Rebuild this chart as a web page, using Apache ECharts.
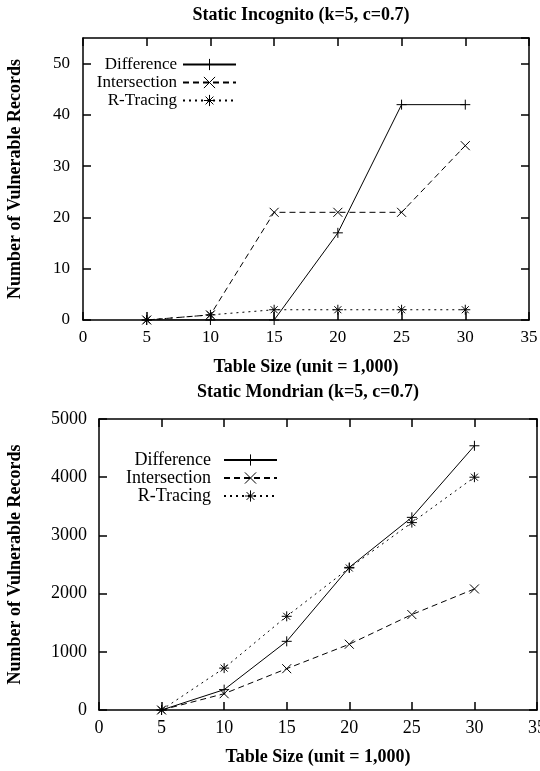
<!DOCTYPE html>
<html>
<head>
<meta charset="utf-8">
<script src="https://cdn.jsdelivr.net/npm/echarts@6/dist/echarts.min.js"></script>
<style>
html, body { margin: 0; padding: 0; background: #fff; }
#main { width: 540px; height: 771px; }
</style>
</head>
<body>
<div id="main"></div>
<script>
// x values (table size, unit = 1,000)
var tableSize = [5, 10, 15, 20, 25, 30];
var seriesNames = ['Difference', 'Intersection', 'R-Tracing'];

// Static Incognito (k=5, c=0.7)
var incDifference = [0, 0, 0, 17, 42, 42];
var incIntersection = [0, 1, 21, 21, 21, 34];
var incRTracing = [0, 1, 2, 2, 2, 2];

// Static Mondrian (k=5, c=0.7)
var monDifference = [0, 350, 1180, 2450, 3310, 4540];
var monIntersection = [0, 280, 710, 1130, 1640, 2080];
var monRTracing = [0, 720, 1610, 2440, 3220, 4000];

var FONT = 'Liberation Serif';

// gnuplot-like point types
var symbols = {
  'Difference': 'path://M0,5L10,5M5,0L5,10',
  'Intersection': 'path://M0,0L10,10M10,0L0,10',
  'R-Tracing': 'path://M5,0L5,10M0,5L10,5M1.5,1.5L8.5,8.5M8.5,1.5L1.5,8.5'
};
var symbolSizes = { 'Difference': 10, 'Intersection': 9, 'R-Tracing': 10 };
var dashes = { 'Difference': 'solid', 'Intersection': [6, 4], 'R-Tracing': [2, 4] };

function pairs(vals) {
  return tableSize.map(function (x, i) { return [x, vals[i]]; });
}

function mkSeries(name, vals, axisIdx) {
  return {
    name: name,
    type: 'line',
    xAxisIndex: axisIdx,
    yAxisIndex: axisIdx,
    data: pairs(vals),
    symbol: symbols[name],
    symbolSize: symbolSizes[name],
    showAllSymbol: true,
    animation: false,
    lineStyle: { color: '#000', width: 1, type: dashes[name] },
    itemStyle: { color: '#000', borderColor: '#000', borderWidth: 1 },
    emphasis: { disabled: true }
  };
}

function xAx(grid, pos, max, fontSize) {
  var main = pos === 'bottom';
  return {
    type: 'value', gridIndex: grid, position: pos,
    min: 0, max: max, interval: 5,
    name: main ? 'Table Size (unit = 1,000)' : '',
    nameLocation: 'middle', nameGap: 38,
    nameTextStyle: { fontFamily: FONT, fontWeight: 'bold', fontSize: 18, color: '#000' },
    axisLine: { show: true, onZero: false, lineStyle: { color: '#000', width: 1.5 } },
    axisTick: { show: true, inside: true, length: 8, lineStyle: { color: '#000', width: 1.5 } },
    axisLabel: { show: main, fontFamily: FONT, fontSize: fontSize, color: '#000', margin: 9 },
    splitLine: { show: false }
  };
}

function yAx(grid, pos, max, interval, fontSize, gap, labelMargin, showMax) {
  var main = pos === 'left';
  return {
    type: 'value', gridIndex: grid, position: pos,
    min: 0, max: max, interval: interval,
    name: main ? 'Number of Vulnerable Records' : '',
    nameLocation: 'middle', nameGap: gap,
    nameTextStyle: { fontFamily: FONT, fontWeight: 'bold', fontSize: 18, color: '#000' },
    axisLine: { show: true, onZero: false, lineStyle: { color: '#000', width: 1.5 } },
    axisTick: { show: true, inside: true, length: 8, lineStyle: { color: '#000', width: 1.5 } },
    axisLabel: { show: main, fontFamily: FONT, fontSize: fontSize, color: '#000', margin: labelMargin,
      showMaxLabel: showMax,
      formatter: function (v) { return String(v); } },
    splitLine: { show: false }
  };
}

function mkLegend(right, top, fontSize, gap, textPad) {
  return {
    data: seriesNames,
    orient: 'vertical',
    align: 'right',
    right: right, top: top,
    padding: 0,
    itemGap: gap,
    itemWidth: 53, itemHeight: 14,
    selectedMode: false,
    textStyle: { fontFamily: FONT, fontSize: fontSize, color: '#000', padding: [0, textPad, 0, 0] },
    itemStyle: { borderWidth: 1 }
  };
}

var chart = echarts.init(document.getElementById('main'), null, { renderer: 'canvas' });

var option = {
  backgroundColor: '#fff',
  animation: false,
  title: [
    { text: 'Static Incognito (k=5, c=0.7)', left: 301, top: 15, textAlign: 'center', textVerticalAlign: 'middle', padding: 0,
      textStyle: { fontFamily: FONT, fontWeight: 'bold', fontSize: 18, color: '#000' } },
    { text: 'Static Mondrian (k=5, c=0.7)', left: 308, top: 392, textAlign: 'center', textVerticalAlign: 'middle', padding: 0,
      textStyle: { fontFamily: FONT, fontWeight: 'bold', fontSize: 18, color: '#000' } }
  ],
  legend: [
    mkLegend(303, 56, 17, 1, 1),
    mkLegend(262, 451, 18, 0, 8)
  ],
  grid: [
    { left: 83, top: 38, width: 446, height: 282, outerBoundsMode: 'none', containLabel: false },
    { left: 99, top: 419, width: 438, height: 291, outerBoundsMode: 'none', containLabel: false }
  ],
  xAxis: [
    xAx(0, 'bottom', 35, 17),
    xAx(0, 'top', 35, 17),
    xAx(1, 'bottom', 35, 18),
    xAx(1, 'top', 35, 18)
  ],
  yAxis: [
    yAx(0, 'left', 55, 10, 17, 59, 13, false),
    yAx(0, 'right', 55, 10, 17, 0, 13, false),
    yAx(1, 'left', 5000, 1000, 18, 75, 12, true),
    yAx(1, 'right', 5000, 1000, 18, 0, 12, true)
  ],
  series: [
    mkSeries('Difference', incDifference, 0),
    mkSeries('Intersection', incIntersection, 0),
    mkSeries('R-Tracing', incRTracing, 0),
    mkSeries('Difference', monDifference, 2),
    mkSeries('Intersection', monIntersection, 2),
    mkSeries('R-Tracing', monRTracing, 2)
  ]
};

chart.setOption(option);
</script>
</body>
</html>
